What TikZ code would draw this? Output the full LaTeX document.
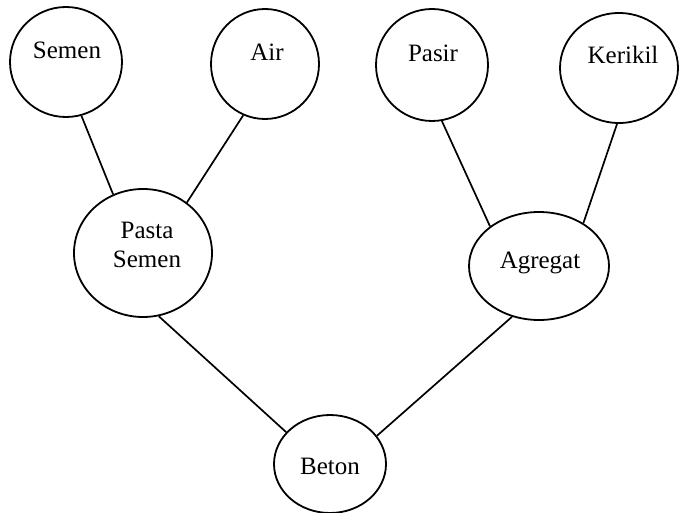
\documentclass[tikz,border=0pt]{standalone}
\usepackage{fontspec}
\setmainfont{Liberation Serif}
\usetikzlibrary{shapes.geometric}
\tikzset{
  circ/.style={draw, ellipse, line width=1.8pt, inner sep=0pt},
  lbl/.style={font=\fontsize{25}{29}\selectfont, align=center, inner sep=0pt},
  conn/.style={line width=1.7pt}
}
\begin{document}
\begin{tikzpicture}[x=1pt,y=-1pt]
\useasboundingbox (0,0) rectangle (679,513);
% circles
\node[circ, minimum width=112pt, minimum height=110pt] (semen) at (66,62) {};
\node[circ, minimum width=108pt, minimum height=110pt] (air) at (265,64) {};
\node[circ, minimum width=112pt, minimum height=112pt] (pasir) at (432,65) {};
\node[circ, minimum width=118pt, minimum height=110pt] (kerikil) at (619,68) {};
\node[circ, minimum width=138pt, minimum height=128pt] (pasta) at (143,253) {};
\node[circ, minimum width=140pt, minimum height=108pt] (agregat) at (539,266) {};
\node[circ, minimum width=112pt, minimum height=98pt] (beton) at (330,464) {};
% labels
\node[lbl] (semenT) at (67,50) {Semen};
\node[lbl] (airT) at (267,52) {Air};
\node[lbl] (pasirT) at (433,53) {Pasir};
\node[lbl] (kerikilT) at (623,55) {Kerikil};
\node[lbl] (pastaT) at (147,245) {Pasta\\Semen};
\node[lbl] (agregatT) at (540,263) {Agregat};
\node[lbl] (betonT) at (330,466) {Beton};
% connectors
\draw[conn] (semen.-74) -- (pasta.117);
\draw[conn] (air.-113) -- (pasta.49);
\draw[conn] (pasir.-80) -- (agregat.141);
\draw[conn] (kerikil.-92) -- (agregat.44);
\draw[conn] (pasta.-76) -- (beton.144);
\draw[conn] (agregat.-118) -- (beton.31);
\end{tikzpicture}
\end{document}
